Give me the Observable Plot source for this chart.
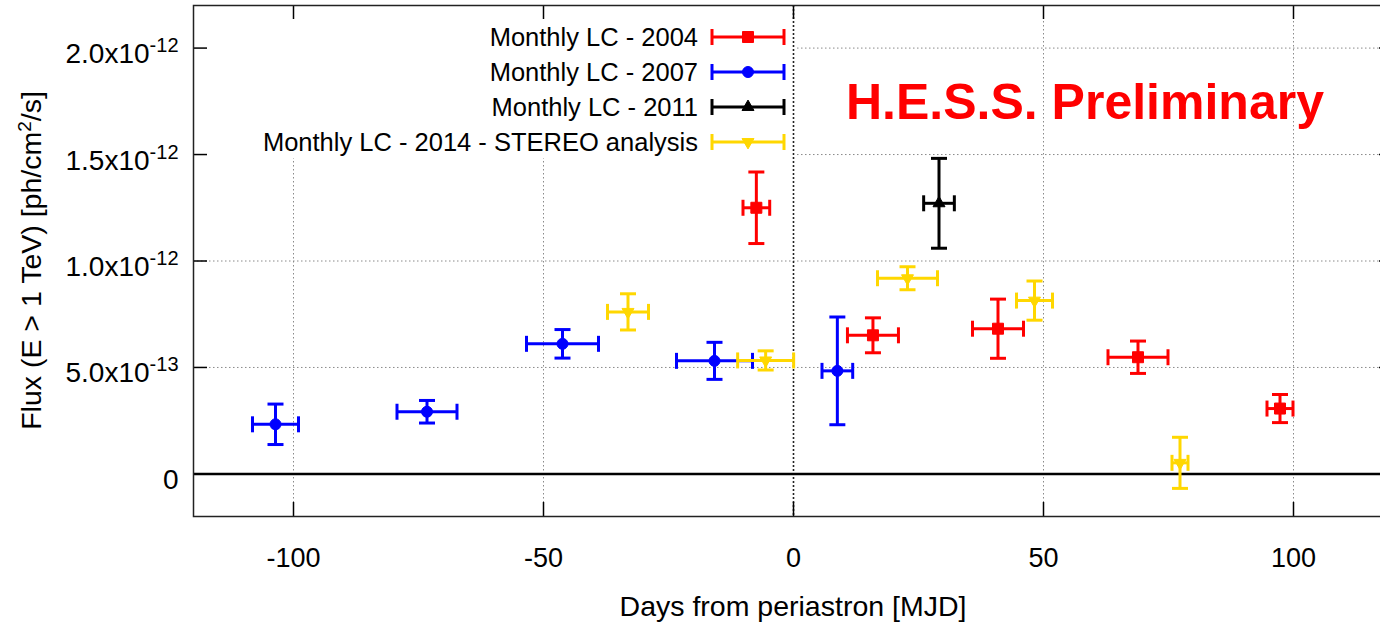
<!DOCTYPE html>
<html><head><meta charset="utf-8">
<script src="https://cdn.jsdelivr.net/npm/d3@7"></script>
<script src="https://cdn.jsdelivr.net/npm/@observablehq/plot@0.6"></script>
<style>
html,body{margin:0;padding:0;background:#fff;overflow:hidden;}
#chart{width:1380px;height:624px;overflow:hidden;}
#chart svg{max-width:none !important;}
</style></head><body><div id="chart"></div>
<script>
// ---- axis ticks / labels
const xTicks = [-100, -50, 0, 50, 100];
const xTickLabels = ["-100", "-50", "0", "50", "100"];
const yTicks = [0, 5e-13, 1e-12, 1.5e-12, 2e-12];
const yTickMantissa = ["0", "5.0x10", "1.0x10", "1.5x10", "2.0x10"];
const yTickExponent = ["", "-13", "-12", "-12", "-12"];
const xTitle = "Days from periastron [MJD]";
const yTitleMain = "Flux (E > 1 TeV) [ph/cm";
const yTitleSup = "2";
const yTitleEnd = "/s]";
const watermark = "H.E.S.S. Preliminary";

// ---- series
const seriesNames = ["Monthly LC - 2004", "Monthly LC - 2007", "Monthly LC - 2011", "Monthly LC - 2014 - STEREO analysis"];
const seriesColors = ["#ff0000", "#0000ff", "#000000", "#ffd700"];

const days2004 = [-7.43, 15.89, 40.9, 68.9, 97.3];
const daysErr2004 = [2.67, 5.1, 5.1, 6.0, 2.6];
const flux2004 = [1.250e-12, 0.651e-12, 0.682e-12, 0.548e-12, 0.307e-12];
const fluxErr2004 = [0.168e-12, 0.082e-12, 0.139e-12, 0.076e-12, 0.066e-12];

const days2007 = [-103.6, -73.3, -46.2, -15.8, 8.77];
const daysErr2007 = [4.6, 6.0, 7.2, 7.6, 3.07];
const flux2007 = [0.233e-12, 0.292e-12, 0.611e-12, 0.531e-12, 0.484e-12];
const fluxErr2007 = [0.095e-12, 0.053e-12, 0.067e-12, 0.087e-12, 0.253e-12];

const days2011 = [29.1];
const daysErr2011 = [3.07];
const flux2011 = [1.271e-12];
const fluxErr2011 = [0.211e-12];

const days2014 = [-33.1, -5.57, 22.8, 48.2, 77.3];
const daysErr2014 = [4.1, 5.6, 6.0, 3.6, 1.6];
const flux2014 = [0.761e-12, 0.533e-12, 0.919e-12, 0.814e-12, 0.052e-12];
const fluxErr2014 = [0.085e-12, 0.045e-12, 0.054e-12, 0.092e-12, 0.12e-12];

// ---- build tables
function table(days, dErr, flux, fErr) {
  return days.map((d, i) => ({x: d, xe: dErr[i], y: flux[i], ye: fErr[i]}));
}
const tables = [
  table(days2004, daysErr2004, flux2004, fluxErr2004),
  table(days2007, daysErr2007, flux2007, fluxErr2007),
  table(days2011, daysErr2011, flux2011, fluxErr2011),
  table(days2014, daysErr2014, flux2014, fluxErr2014)
];

// ---- symbols
const hCap = {draw(ctx, size) { const r = Math.sqrt(size / Math.PI); ctx.moveTo(-r, 0); ctx.lineTo(r, 0); }};
const vCap = {draw(ctx, size) { const r = Math.sqrt(size / Math.PI); ctx.moveTo(0, -r); ctx.lineTo(0, r); }};
const triDown = {draw(ctx, size) {
  const y = Math.sqrt(size / (Math.sqrt(3) * 3));
  ctx.moveTo(0, 2 * y); ctx.lineTo(-Math.sqrt(3) * y, -y); ctx.lineTo(Math.sqrt(3) * y, -y); ctx.closePath();
}};
const seriesSymbols = ["square", "circle", "triangle", triDown];
const seriesR = [6.2, 5.5, 4.45, 4.45];
const d3Symbols = [d3.symbolSquare, d3.symbolCircle, d3.symbolTriangle, triDown];

// ---- layout
const W = 1393, H = 624, mL = 193, mR = 0, mT = 5, mB = 108;
const plotW = W - mL - mR, plotH = H - mT - mB;
const tickLen = 14;
const sw = 3;

function seriesMarks(data, k) {
  const c = seriesColors[k];
  return [
    Plot.ruleY(data, {y: "y", x1: d => d.x - d.xe, x2: d => d.x + d.xe, stroke: c, strokeWidth: sw}),
    Plot.ruleX(data, {x: "x", y1: d => d.y - d.ye, y2: d => d.y + d.ye, stroke: c, strokeWidth: sw}),
    Plot.dot(data, {x: d => d.x - d.xe, y: "y", symbol: vCap, r: 8, stroke: c, strokeWidth: sw, fill: "none"}),
    Plot.dot(data, {x: d => d.x + d.xe, y: "y", symbol: vCap, r: 8, stroke: c, strokeWidth: sw, fill: "none"}),
    Plot.dot(data, {x: "x", y: d => d.y - d.ye, symbol: hCap, r: 8, stroke: c, strokeWidth: sw, fill: "none"}),
    Plot.dot(data, {x: "x", y: d => d.y + d.ye, symbol: hCap, r: 8, stroke: c, strokeWidth: sw, fill: "none"}),
    Plot.dot(data, {x: "x", y: "y", symbol: seriesSymbols[k], r: seriesR[k], fill: c, stroke: c, strokeWidth: 1})
  ];
}

const gridStyle = {stroke: "#8a8a8a", strokeOpacity: 1, strokeWidth: 1, strokeDasharray: "1.5,2.5"};

const plot = Plot.plot({
  width: W, height: H,
  marginLeft: mL, marginRight: mR, marginTop: mT, marginBottom: mB,
  x: {domain: [-120, 120]},
  y: {domain: [-0.2e-12, 2.2e-12]},
  style: {fontFamily: '"Liberation Sans", Arial, Helvetica, sans-serif', fontSize: "27px", background: "#fff", color: "#000", maxWidth: "none"},
  marks: [
    Plot.gridX(xTicks.filter(d => d !== 0), gridStyle),
    Plot.gridY(yTicks.filter(d => d !== 0), gridStyle),
    Plot.ruleX([0], {stroke: "#222", strokeWidth: 1.6, strokeDasharray: "2,2"}),
    Plot.ruleY([0], {stroke: "#000", strokeWidth: 2.5}),
    ...tables.flatMap((t, k) => seriesMarks(t, k)),
    Plot.tickX(xTicks, {x: d => d, insetTop: plotH - tickLen, stroke: "#000", strokeWidth: 1.5}),
    Plot.tickX(xTicks, {x: d => d, insetBottom: plotH - tickLen, stroke: "#000", strokeWidth: 1.5}),
    Plot.tickY(yTicks, {y: d => d, insetRight: plotW - tickLen, stroke: "#000", strokeWidth: 1.5}),
    Plot.tickY(yTicks, {y: d => d, insetLeft: plotW - tickLen, stroke: "#000", strokeWidth: 1.5}),
    Plot.frame({stroke: "#222", strokeWidth: 1.5}),
    Plot.axisX(xTicks, {tickSize: 0, tickPadding: 31, fontSize: 27, tickFormat: d => xTickLabels[xTicks.indexOf(d)], label: null}),
    Plot.axisY(yTicks, {tickSize: 0, tickPadding: 15, dy: 6, fontSize: 28, tickFormat: d => yTickMantissa[yTicks.indexOf(d)], label: null})
  ]
});

plot.style.maxWidth = "none";
document.getElementById("chart").appendChild(plot);

const ns = "http://www.w3.org/2000/svg";
const svg = d3.select(plot);

// superscripts on y tick labels
svg.selectAll('g[aria-label="y-axis tick label"] text').each(function() {
  const t = d3.select(this);
  const idx = yTickMantissa.indexOf(this.textContent);
  if (idx >= 0 && yTickExponent[idx]) {
    t.append("tspan").attr("dy", "-11").attr("font-size", "20px").text(yTickExponent[idx]);
  }
});

// legend (inserted after the grid lines)
const grids = plot.querySelectorAll('g[aria-label$="grid"]');
const after = grids[grids.length - 1].nextSibling;
const legNode = document.createElementNS(ns, "g");
plot.insertBefore(legNode, after);
const leg = d3.select(legNode);
leg.append("rect").attr("x", mL + 1).attr("y", mT + 1).attr("width", 797 - mL - 1).attr("height", 158 - mT - 1).attr("fill", "#fff");
const rowY = [37, 72, 107, 142];
const textRight = 698, lineX1 = 712, lineX2 = 784;
seriesNames.forEach((name, k) => {
  const y = rowY[k], c = seriesColors[k];
  leg.append("text").attr("x", textRight).attr("y", y).attr("dy", "0.36em").attr("text-anchor", "end")
    .attr("font-size", "25.5px").attr("fill", "#000").text(name);
  leg.append("line").attr("x1", lineX1).attr("x2", lineX2).attr("y1", y).attr("y2", y).attr("stroke", c).attr("stroke-width", sw);
  [lineX1, lineX2].forEach(x => leg.append("line").attr("x1", x).attr("x2", x).attr("y1", y - 8).attr("y2", y + 8).attr("stroke", c).attr("stroke-width", sw));
  const area = Math.PI * seriesR[k] * seriesR[k];
  leg.append("path").attr("d", d3.symbol(d3Symbols[k], area)()).attr("transform", `translate(${(lineX1 + lineX2) / 2},${y})`).attr("fill", c).attr("stroke", c);
});

// titles
svg.append("text").attr("x", (mL + W - mR) / 2).attr("y", 616).attr("text-anchor", "middle").attr("font-size", "28.5px").attr("fill", "#000").text(xTitle);
const yt = svg.append("text").attr("transform", `translate(31,${mT + plotH / 2}) rotate(-90)`).attr("dy", "0.35em")
  .attr("text-anchor", "middle").attr("font-size", "28.5px").attr("fill", "#000");
yt.append("tspan").text(yTitleMain);
yt.append("tspan").attr("dy", "-10").attr("font-size", "19px").text(yTitleSup);
yt.append("tspan").attr("dy", "10").text(yTitleEnd);
svg.append("text").attr("x", 846).attr("y", 119).attr("text-anchor", "start").attr("font-size", "50px").attr("font-weight", "bold").attr("fill", "#ff0000").text(watermark);
</script></body></html>
